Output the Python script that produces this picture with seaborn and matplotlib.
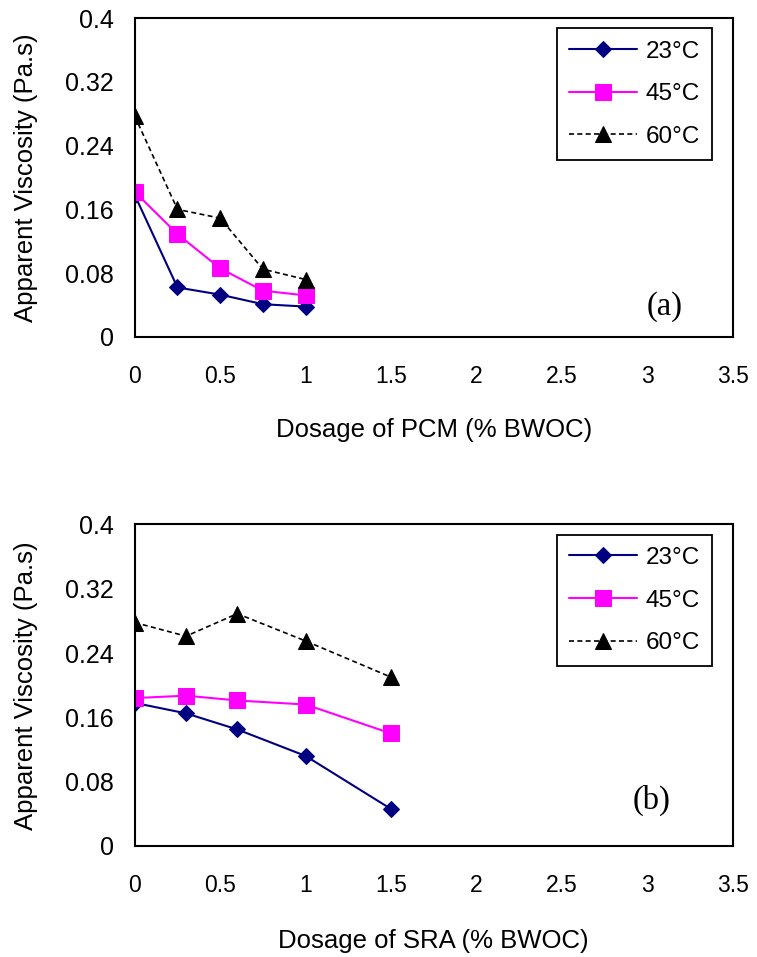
import seaborn as sns
import pandas as pd
import matplotlib.pyplot as plt

# panel (a): PCM dosage
pcm_dose = [0, 0.25, 0.5, 0.75, 1.0]
pcm_23 = [0.178, 0.062, 0.053, 0.041, 0.038]
pcm_45 = [0.182, 0.129, 0.086, 0.058, 0.052]
pcm_60 = [0.277, 0.160, 0.149, 0.085, 0.072]

# panel (b): SRA dosage
sra_dose = [0, 0.3, 0.6, 1.0, 1.5]
sra_23 = [0.178, 0.165, 0.145, 0.112, 0.046]
sra_45 = [0.184, 0.187, 0.181, 0.176, 0.140]
sra_60 = [0.278, 0.261, 0.289, 0.255, 0.210]

temps = ["23°C", "45°C", "60°C"]
colors = {"23°C": "#000080", "45°C": "#FF00FF", "60°C": "#000000"}
marks = {"23°C": "D", "45°C": "s", "60°C": "^"}
msize = {"23°C": 8, "45°C": 11, "60°C": 12}
dash = {"23°C": "-", "45°C": "-", "60°C": (0, (3, 2))}

xticks = [0, 0.5, 1, 1.5, 2, 2.5, 3, 3.5]
yticks = [0, 0.08, 0.16, 0.24, 0.32, 0.4]


def make_df(dose, s23, s45, s60):
    rows = []
    for t, vals in zip(temps, [s23, s45, s60]):
        for d, v in zip(dose, vals):
            rows.append({"dose": d, "visc": v, "temp": t})
    return pd.DataFrame(rows)


def draw(ax, df, xlabel, tag, tag_x, tag_y, xlabel_y):
    for t in temps:
        sub = df[df["temp"] == t]
        sns.lineplot(data=sub, x="dose", y="visc", ax=ax, color=colors[t],
                     marker=marks[t], markersize=msize[t], markeredgecolor=colors[t],
                     linestyle=dash[t], linewidth=1.5 if t != "60°C" else 1.2,
                     label=t)
    ax.set_xlim(0, 3.5)
    ax.set_ylim(0, 0.4)
    ax.set_xticks(xticks)
    ax.set_xticklabels([f"{x:g}" for x in xticks])
    ax.set_yticks(yticks)
    ax.set_yticklabels([f"{y:g}" for y in yticks])
    for s in ax.spines.values():
        s.set_visible(True)
        s.set_color("black")
        s.set_linewidth(1.5)
    ax.tick_params(axis="both", direction="out", length=5, width=1.5,
                   color="black", labelcolor="black")
    ax.tick_params(axis="x", pad=15, labelsize=16.5)
    ax.tick_params(axis="y", pad=10, labelsize=18)
    ax.set_xlabel(xlabel, fontsize=18.5, color="black")
    ax.set_ylabel("Apparent Viscosity (Pa.s)", fontsize=18.5, color="black")
    ax.xaxis.set_label_coords(0.5, xlabel_y)
    ax.yaxis.set_label_coords(-0.162, 0.5)
    ax.grid(False)
    leg = ax.legend(loc="upper right", bbox_to_anchor=(0.965, 0.968), fontsize=17.5,
                    frameon=True, fancybox=False, edgecolor="black", framealpha=1,
                    handlelength=2.8, handletextpad=0.35, labelspacing=0.85,
                    borderpad=0.5, borderaxespad=0)
    leg.get_frame().set_linewidth(1.3)
    for txt in leg.get_texts():
        txt.set_color("black")
    ax.text(tag_x, tag_y, tag, transform=ax.transAxes, fontsize=23.5,
            family="Liberation Serif", ha="center", va="center", color="black")


sns.set_style("white")
plt.rcParams["font.family"] = ["Liberation Sans", "DejaVu Sans"]

fig = plt.figure(figsize=(7.57, 9.57), dpi=100)
ax1 = fig.add_axes([0.178, 0.648, 0.790, 0.333])
ax2 = fig.add_axes([0.178, 0.116, 0.790, 0.336])

draw(ax1, make_df(pcm_dose, pcm_23, pcm_45, pcm_60), "Dosage of PCM (% BWOC)",
     "(a)", 0.886, 0.094, -0.255)
draw(ax2, make_df(sra_dose, sra_23, sra_45, sra_60), "Dosage of SRA (% BWOC)",
     "(b)", 0.865, 0.143, -0.258)

fig.savefig("out.png", dpi=100, facecolor="white")
